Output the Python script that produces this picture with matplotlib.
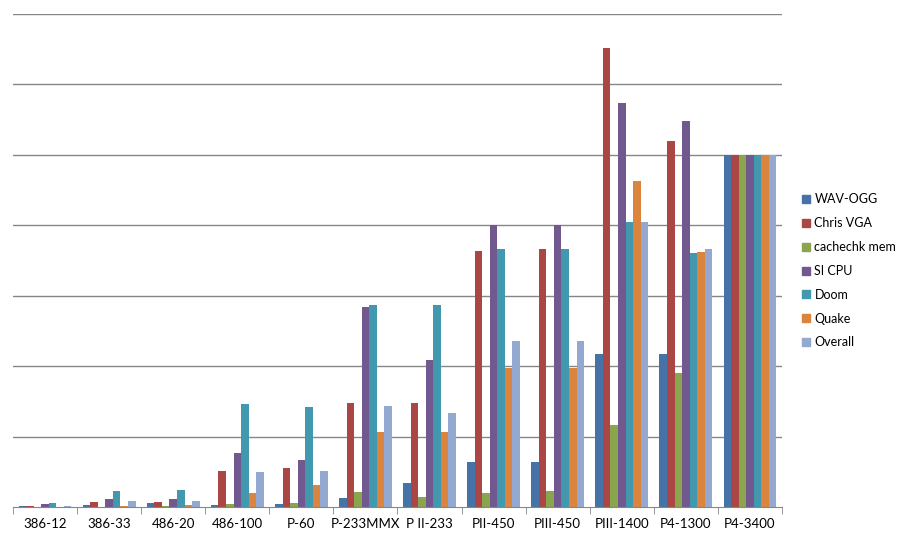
import numpy as np
import matplotlib.pyplot as plt
from matplotlib.lines import Line2D

plt.rcParams['font.family'] = ['Lato', 'DejaVu Sans']

# CPUs along the x axis
cpus = ["386-12", "386-33", "486-20", "486-100", "P-60", "P-233MMX",
        "P II-233", "PII-450", "PIII-450", "PIII-1400", "P4-1300", "P4-3400"]

# relative scores (P4-3400 = 100)
wav_ogg = [0.3, 0.6, 1.2, 0.6, 0.9, 2.6, 6.9, 12.9, 12.9, 43.5, 43.5, 100]
chris_vga = [0.3, 1.5, 1.5, 10.3, 11.2, 29.6, 29.6, 72.7, 73.3, 130.3, 103.9, 100]
cachechk_mem = [0.0, 0.0, 0.3, 0.9, 1.2, 4.3, 2.9, 4.1, 4.6, 23.3, 38.1, 100]
si_cpu = [0.9, 2.3, 2.3, 15.4, 13.4, 56.8, 41.8, 80.0, 80.0, 114.7, 109.6, 100]
doom = [1.2, 4.6, 4.9, 29.3, 28.5, 57.4, 57.4, 73.3, 73.3, 80.9, 72.1, 100]
quake = [0.0, 0.3, 0.6, 4.1, 6.3, 21.4, 21.4, 39.5, 39.5, 92.6, 72.4, 100]
overall = [0.3, 1.8, 1.8, 10.0, 10.3, 28.7, 26.8, 47.2, 47.2, 80.9, 73.3, 100]

series = [wav_ogg, chris_vga, cachechk_mem, si_cpu, doom, quake, overall]
names = ["WAV-OGG", "Chris VGA", "cachechk mem", "SI CPU", "Doom", "Quake", "Overall"]
colors = ["#4572A7", "#AA4643", "#89A54E", "#71588F", "#4198AF", "#DB843D", "#93A9CF"]

fig = plt.figure(figsize=(9.08, 5.41), dpi=100)
ax = fig.add_axes([13 / 908, 34 / 541, 769 / 908, 493 / 541])

x = np.arange(len(cpus))
n = len(series)
w = 1 / (n + 1.5)
for i, (vals, name, c) in enumerate(zip(series, names, colors)):
    ax.bar(x + (i - (n - 1) / 2) * w, vals, width=w, color=c, label=name, zorder=3)

ax.set_xlim(-0.5, len(cpus) - 0.5)
ax.set_ylim(0, 140)
ax.set_yticks(np.arange(20, 141, 20))
ax.yaxis.grid(True, color="#868686", lw=1)
ax.tick_params(axis='y', left=False, labelleft=False)
for s in ["left", "right", "top"]:
    ax.spines[s].set_visible(False)
ax.spines["bottom"].set_color("#868686")
ax.spines["bottom"].set_zorder(4)

ax.set_xticks(x)
ax.set_xticklabels(cpus, fontsize=9.5)
ax.set_xticks(np.arange(-0.5, len(cpus)), minor=True)
ax.tick_params(axis='x', which='major', length=0, pad=8)
ax.tick_params(axis='x', which='minor', length=5, color="#868686")

handles = [Line2D([], [], marker='s', ls='', color=c, markersize=6) for c in colors]
fig.legend(handles, names, loc='upper left', bbox_to_anchor=(787 / 908, 1 - 182 / 541),
           frameon=False, fontsize=9, labelspacing=0.95, handletextpad=0.1,
           handlelength=1.2)

fig.savefig("out.png", dpi=100)
